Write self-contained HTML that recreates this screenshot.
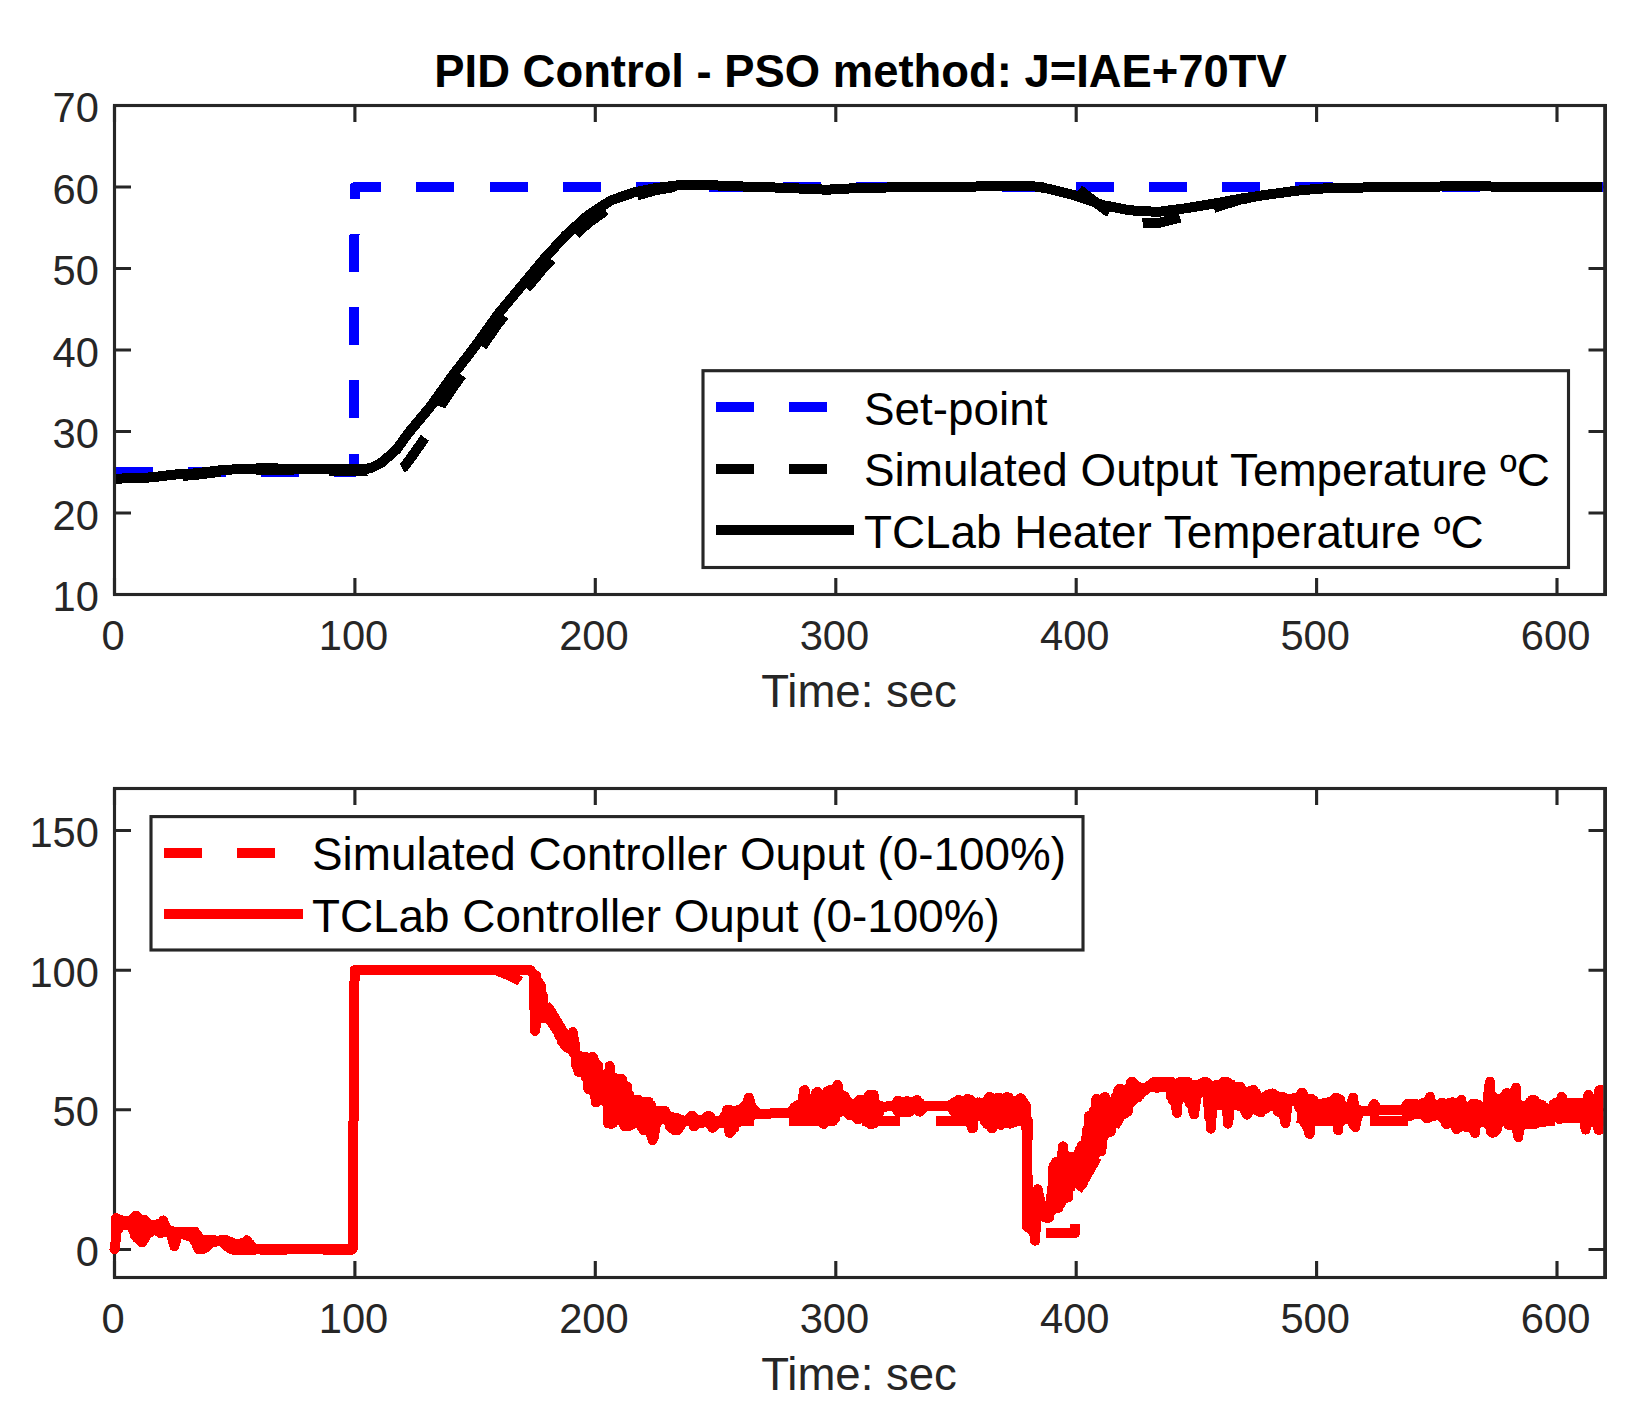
<!DOCTYPE html>
<html lang="en"><head><meta charset="utf-8"><title>PID Control - PSO method</title>
<style>html,body{margin:0;padding:0;background:#fff}svg{display:block}</style></head>
<body>
<svg width="1633" height="1419" viewBox="0 0 1633 1419" role="img" aria-label="PID control figure">
<defs>
<clipPath id="c1"><rect x="114.5" y="100" width="1489" height="494.5"/></clipPath>
<clipPath id="c2"><rect x="105" y="789" width="1498.5" height="488"/></clipPath>
</defs>
<rect width="1633" height="1419" fill="#fff"/>
<g id="axes1">
<path d="M114.5 594.5V578.0M114.5 105.5V122.0M354.9 594.5V578.0M354.9 105.5V122.0M595.3 594.5V578.0M595.3 105.5V122.0M835.8 594.5V578.0M835.8 105.5V122.0M1076.2 594.5V578.0M1076.2 105.5V122.0M1316.6 594.5V578.0M1316.6 105.5V122.0M1557.0 594.5V578.0M1557.0 105.5V122.0M114.5 594.5H131.0M1605.0 594.5H1588.5M114.5 513.0H131.0M1605.0 513.0H1588.5M114.5 431.5H131.0M1605.0 431.5H1588.5M114.5 350.0H131.0M1605.0 350.0H1588.5M114.5 268.5H131.0M1605.0 268.5H1588.5M114.5 187.0H131.0M1605.0 187.0H1588.5M114.5 105.5H131.0M1605.0 105.5H1588.5" stroke="#262626" stroke-width="3.125" fill="none"/>
<g clip-path="url(#c1)" fill="none" stroke-width="10" shape-rendering="crispEdges">
<polyline points="114.5,472.2 353.6,472.2 354.7,187.0 1605.0,187.0" stroke="#0000ff" stroke-linejoin="round" stroke-dasharray="38 35.25"/>
<polyline points="114.5,478.8 151.4,477.4 173.5,476.2 191.9,475.3 219.4,472.0 237.8,470.7 265.3,469.8 302.0,470.7 338.8,471.1 364.5,470.9 385.0,469.3 400.0,469.0 404.0,467.0 409.0,460.5 428.0,433.5 435.0,424.0 442.0,404.2 452.8,387.8 475.4,356.5 497.9,323.9 520.5,295.8 543.0,268.7 565.6,244.1 588.1,223.1 610.7,207.0 633.3,196.6 655.8,190.2 678.4,186.3 700.0,184.7" stroke="#000" stroke-dasharray="38 35.25" stroke-dashoffset="4.7"/>
<polyline points="1000.0,186.1 1035.0,186.5 1060.0,187.0 1076.0,187.6 1079.0,189.5 1092.0,199.5 1106.3,210.6 1125.0,219.5 1142.0,223.5 1160.0,222.6 1179.0,218.0 1197.0,212.5 1215.0,207.5 1240.5,199.5 1268.0,194.6 1295.6,190.8 1320.0,188.6" stroke="#000" stroke-dasharray="38 35.25" stroke-dashoffset="66.9"/>
<polyline points="114.5,478.8 151.4,477.4 173.5,474.6 191.9,473.7 219.4,470.4 237.8,469.1 265.3,468.2 302.0,469.1 338.8,469.5 364.5,469.3 372.0,467.6 380.6,463.3 388.0,457.0 396.4,449.7 407.7,433.9 430.2,406.9 452.8,375.3 475.4,346.0 497.9,314.4 520.5,287.3 543.0,260.2 565.6,235.4 588.1,215.1 610.7,200.5 633.3,192.6 655.8,188.0 678.4,185.3 700.0,184.7 733.0,186.2 775.0,187.5 827.0,189.7 863.7,187.7 949.0,187.0 998.0,186.1 1035.0,186.5 1047.6,188.6 1075.0,195.4 1102.7,205.1 1130.0,210.3 1157.8,211.9 1185.0,208.4 1213.0,203.8 1240.5,198.7 1268.0,194.6 1295.6,190.8 1320.0,188.6 1339.0,188.0 1378.0,187.2 1476.0,186.1 1515.6,187.2 1602.0,187.2" stroke="#000" stroke-linejoin="round"/>
</g>
<rect x="114.5" y="105.5" width="1490.5" height="489.0" fill="none" stroke="#262626" stroke-width="3.125"/>
<path d="M1605.2 104.0V596.0" stroke="#262626" stroke-width="3.6" fill="none"/>
</g>
<g id="axes2">
<path d="M114.5 1277.5V1261.0M114.5 788.5V805.0M354.9 1277.5V1261.0M354.9 788.5V805.0M595.3 1277.5V1261.0M595.3 788.5V805.0M835.8 1277.5V1261.0M835.8 788.5V805.0M1076.2 1277.5V1261.0M1076.2 788.5V805.0M1316.6 1277.5V1261.0M1316.6 788.5V805.0M1557.0 1277.5V1261.0M1557.0 788.5V805.0M114.5 1249.5H131.0M1605.0 1249.5H1588.5M114.5 1109.8H131.0M1605.0 1109.8H1588.5M114.5 970.2H131.0M1605.0 970.2H1588.5M114.5 830.5H131.0M1605.0 830.5H1588.5" stroke="#262626" stroke-width="3.125" fill="none"/>
<rect x="114.5" y="788.5" width="1490.5" height="489.0" fill="none" stroke="#262626" stroke-width="3.125"/>
<g clip-path="url(#c2)" fill="none" stroke="#ff0000" stroke-width="10" shape-rendering="crispEdges">
<polyline points="260.0,1249.5 352.6,1249.5 354.6,970.2 496.0,970.2 508.0,975.0 520.0,981.0 535.0,992.0 550.0,1010.0 565.0,1035.0 580.0,1058.0 600.0,1082.0 620.0,1098.0 645.0,1110.0 675.0,1118.0 700.0,1121.0 1028.0,1121.0 1028.0,1180.0" stroke-linejoin="round" stroke-dasharray="38 35.25" stroke-dashoffset="10.7"/>
<polyline points="1028.0,1180.0 1028.0,1232.8 1075.4,1232.8 1075.8,1192.0 1081.0,1185.5 1098.0,1155.8 1110.0,1135.0 1125.0,1108.0 1140.0,1094.0 1160.0,1087.0" stroke-linejoin="round" stroke-dasharray="38 35.25" stroke-dashoffset="2.7"/>
<polyline points="1160.0,1087.0 1185.0,1086.0 1215.0,1092.0 1250.0,1104.0 1285.0,1115.0 1310.0,1121.0 1605.0,1121.0" stroke-linejoin="round" stroke-dasharray="38 35.25" stroke-dashoffset="4.7"/>
<polyline points="114.5,1249.5 115.5,1242.7 116.1,1218.2 117.9,1219.0 118.3,1229.5 120.3,1220.0 120.7,1225.8 122.7,1221.1 123.1,1225.3 125.1,1225.3 127.3,1220.8 129.7,1220.5 130.1,1226.0 132.1,1219.8 132.5,1229.6 134.5,1217.4 134.9,1235.6 135.9,1215.6 136.9,1237.9 137.1,1217.1 139.3,1240.1 139.5,1219.2 141.7,1242.3 141.9,1219.6 142.3,1242.4 144.3,1219.6 144.7,1238.8 146.7,1222.4 147.1,1234.3 149.1,1224.8 149.5,1232.8 151.5,1231.6 153.7,1225.1 156.1,1224.5 156.5,1230.7 158.5,1223.9 158.9,1231.9 160.3,1232.9 160.9,1223.0 161.1,1232.8 163.3,1220.4 163.5,1220.9 163.9,1232.5 165.9,1226.4 168.1,1232.4 168.3,1229.4 170.5,1234.2 170.7,1230.6 172.9,1241.7 173.1,1231.8 174.3,1246.4 175.5,1242.6 177.7,1232.2 177.9,1235.8 180.1,1231.9 180.3,1234.1 182.5,1231.6 182.7,1231.6 184.9,1234.8 185.1,1231.6 187.3,1235.6 187.5,1231.6 189.7,1236.4 189.9,1231.6 192.1,1237.6 192.3,1231.6 194.5,1241.5 194.7,1231.6 196.9,1246.0 197.1,1234.6 198.7,1249.3 199.5,1238.5 199.9,1249.3 201.9,1240.0 202.3,1249.3 204.3,1240.1 204.7,1248.3 206.7,1240.1 207.1,1246.4 209.1,1240.1 209.5,1244.5 211.5,1240.1 211.9,1242.8 213.9,1240.1 214.3,1242.3 217.5,1241.0 219.9,1240.9 221.1,1240.1 223.3,1243.0 223.5,1240.1 225.7,1245.1 225.9,1240.1 228.1,1247.2 228.3,1241.1 230.5,1248.7 230.7,1242.1 232.9,1249.6 233.1,1243.1 234.7,1250.2 235.5,1244.1 235.9,1250.2 237.9,1250.2 240.1,1243.7 240.3,1250.2 242.5,1242.9 242.7,1250.2 244.9,1241.9 245.1,1250.2 246.7,1240.3 247.5,1241.1 247.9,1250.2 249.9,1243.9 250.3,1250.2 252.3,1246.7 252.7,1250.2 255.9,1249.4 258.3,1249.4 260.7,1249.4 263.1,1249.4 265.5,1249.4 267.9,1249.4 270.3,1249.4 272.7,1249.4 275.1,1249.4 277.5,1249.4 279.9,1249.4 282.3,1249.4 284.7,1249.4 287.1,1249.4 289.5,1249.4 291.9,1249.4 294.3,1249.4 296.7,1249.4 299.1,1249.4 301.5,1249.4 303.9,1249.4 306.3,1249.4 308.7,1249.4 311.1,1249.4 313.5,1249.4 315.9,1249.4 318.3,1249.4 320.7,1249.4 323.1,1249.4 325.5,1249.4 327.9,1249.4 330.3,1249.4 332.7,1249.4 335.1,1249.4 337.5,1249.4 339.9,1249.4 342.3,1249.4 344.7,1249.4 347.1,1249.4 349.5,1249.4 351.1,1249.4 352.6,1249.5 354.6,970.2 530.5,970.2 533.5,974.6 535.1,1030.8 535.9,975.4 536.3,1025.6 538.3,981.3 538.7,1018.9 540.7,985.7 541.1,1018.1 543.1,996.1 543.5,1018.1 545.5,1007.5 547.7,1018.5 547.9,1008.5 550.1,1020.9 550.3,1012.9 552.5,1024.2 552.7,1019.3 554.9,1027.6 555.1,1024.1 557.3,1031.1 557.5,1028.9 559.7,1036.5 559.9,1032.9 562.1,1041.9 562.3,1036.3 564.5,1045.3 564.7,1039.3 566.9,1047.7 569.3,1039.7 569.7,1048.9 571.7,1036.5 572.1,1049.8 572.7,1032.1 574.1,1054.0 574.3,1039.7 576.5,1066.5 576.7,1054.9 578.5,1071.9 579.1,1056.4 579.5,1071.8 581.5,1056.5 583.7,1072.2 583.9,1056.5 586.1,1077.9 586.3,1057.3 588.5,1089.2 590.9,1057.5 591.3,1090.1 592.7,1056.8 593.3,1092.1 593.5,1057.9 595.7,1102.3 595.9,1063.1 596.3,1102.2 598.3,1065.9 598.7,1100.7 600.7,1074.3 602.9,1099.9 605.3,1075.2 605.7,1102.2 607.7,1073.0 608.1,1123.5 609.7,1066.1 610.1,1123.7 610.3,1072.5 611.3,1123.8 612.7,1076.8 613.1,1123.0 615.1,1078.2 615.5,1120.4 619.7,1079.3 620.1,1119.2 621.7,1078.7 622.1,1120.9 622.3,1079.8 624.3,1126.1 624.7,1085.3 625.1,1126.1 627.1,1086.3 627.5,1125.9 629.5,1095.2 629.9,1125.7 631.9,1099.6 632.3,1124.5 634.3,1122.3 636.5,1099.9 637.9,1099.7 638.9,1122.9 639.1,1100.7 641.3,1127.3 641.5,1102.2 643.7,1130.3 646.1,1101.9 646.5,1130.6 647.9,1101.6 648.5,1131.1 648.7,1101.8 650.9,1134.4 651.1,1105.0 652.5,1140.1 653.5,1110.3 653.9,1136.9 655.9,1124.3 658.1,1111.2 658.3,1121.5 660.5,1111.0 660.7,1119.2 662.9,1110.9 664.9,1110.8 665.3,1118.5 665.5,1111.8 667.7,1121.0 667.9,1115.8 670.1,1126.9 670.3,1117.7 672.5,1128.8 672.7,1118.4 674.7,1130.5 675.1,1119.0 675.5,1130.4 677.5,1119.6 677.9,1129.8 679.9,1120.1 680.3,1126.1 682.3,1120.2 682.7,1122.8 685.9,1120.8 687.1,1121.3 689.3,1118.5 691.7,1115.7 692.1,1122.2 691.9,1115.8 693.9,1126.3 694.3,1117.9 694.7,1126.0 696.0,1119.1 696.4,1124.1 699.6,1121.8 700.8,1122.8 703.0,1119.8 703.2,1122.8 705.4,1117.9 707.8,1116.0 708.2,1123.0 708.2,1115.8 710.2,1124.7 710.4,1116.9 712.6,1127.9 712.8,1120.0 713.2,1127.6 715.2,1124.6 717.4,1121.0 717.6,1123.4 719.8,1120.6 720.0,1123.4 722.2,1119.9 724.6,1116.1 725.0,1123.5 727.0,1109.8 727.4,1125.0 729.0,1109.6 729.4,1132.8 729.6,1110.0 730.0,1133.0 732.0,1130.0 734.2,1111.1 734.4,1127.6 736.6,1110.4 736.8,1123.2 739.0,1109.7 739.2,1121.7 741.4,1108.8 741.6,1121.2 743.8,1106.5 744.0,1120.8 746.2,1104.0 746.4,1120.3 748.6,1097.7 748.8,1119.9 749.0,1097.6 751.2,1106.2 751.6,1115.6 753.6,1108.8 754.0,1114.3 756.0,1111.2 756.4,1114.2 759.6,1113.6 762.0,1113.7 764.4,1113.7 766.8,1113.7 769.2,1113.7 771.6,1113.3 774.0,1113.0 776.4,1112.9 778.8,1112.9 781.2,1112.9 783.6,1112.9 786.0,1112.9 788.4,1112.9 791.8,1111.4 792.2,1114.8 794.2,1107.5 794.6,1118.2 796.6,1105.4 797.0,1118.4 799.0,1104.5 799.4,1118.6 801.4,1102.6 801.8,1118.8 803.8,1090.5 804.2,1119.0 804.6,1090.1 806.2,1119.2 806.4,1097.0 808.6,1119.4 808.8,1099.7 811.0,1119.6 813.4,1099.1 813.8,1119.9 815.8,1093.1 816.2,1120.1 817.6,1092.0 818.2,1120.3 818.4,1092.9 820.6,1120.8 820.8,1095.4 823.0,1123.1 823.8,1124.0 825.4,1095.1 825.6,1121.9 827.8,1091.0 828.0,1120.9 830.2,1090.0 830.4,1120.9 832.6,1089.4 832.8,1120.9 835.0,1088.6 835.2,1117.9 837.4,1085.1 837.6,1085.0 838.0,1113.0 840.0,1093.9 840.4,1111.5 842.4,1095.8 844.6,1110.9 844.8,1096.4 847.0,1112.7 847.2,1100.7 849.4,1115.1 849.6,1104.0 851.8,1115.4 854.2,1103.9 854.6,1116.3 856.6,1102.6 857.0,1118.5 857.2,1119.1 859.0,1100.3 859.2,1119.1 859.6,1099.9 861.6,1100.1 863.8,1118.1 866.2,1099.6 866.6,1119.7 868.6,1096.2 869.0,1123.1 869.4,1094.8 870.2,1124.0 871.2,1094.8 871.6,1124.0 873.6,1094.8 874.0,1123.2 876.0,1103.5 876.4,1121.7 878.4,1105.5 878.8,1113.7 880.8,1105.9 881.2,1108.0 884.0,1106.8 887.2,1106.4 889.6,1106.4 892.0,1106.4 895.4,1104.3 895.8,1108.4 897.6,1100.7 897.8,1111.3 898.0,1100.9 900.2,1111.8 900.4,1102.1 902.0,1112.2 902.8,1112.2 905.0,1101.8 905.2,1112.2 907.2,1101.0 907.6,1101.1 908.0,1112.2 910.0,1102.1 910.4,1111.1 912.4,1109.6 914.6,1101.6 917.0,1100.2 917.4,1110.3 917.2,1100.3 919.4,1111.6 919.6,1102.8 920.0,1111.7 922.0,1105.1 922.4,1109.0 925.6,1106.4 928.0,1106.0 930.4,1106.0 932.8,1106.0 935.2,1106.0 937.6,1106.0 940.0,1106.0 942.4,1106.0 944.8,1106.0 947.2,1106.0 950.6,1104.7 951.0,1107.4 953.0,1103.2 953.4,1110.9 955.4,1101.7 955.8,1113.4 957.8,1100.2 958.2,1114.2 958.4,1099.9 960.2,1115.0 960.4,1100.5 962.6,1116.1 965.0,1100.5 965.4,1118.3 967.4,1099.1 967.8,1120.6 967.8,1098.9 969.8,1122.9 970.0,1099.7 972.2,1128.5 972.4,1101.8 972.8,1128.0 974.8,1102.5 975.2,1116.6 977.2,1102.5 977.6,1114.9 979.6,1102.5 981.8,1116.2 984.2,1102.5 984.6,1120.9 986.6,1101.3 987.0,1124.1 989.0,1097.2 989.4,1125.1 989.4,1097.0 991.4,1127.5 991.6,1098.1 992.0,1128.5 994.0,1125.3 996.2,1098.3 998.2,1097.6 998.6,1124.4 998.8,1097.8 1000.8,1125.0 1001.2,1124.8 1003.4,1098.6 1003.6,1123.2 1005.8,1097.5 1007.0,1097.0 1008.2,1123.1 1008.4,1097.4 1010.0,1123.7 1010.8,1099.7 1011.2,1123.4 1013.2,1101.4 1013.6,1122.4 1015.6,1121.8 1017.8,1100.5 1018.0,1121.5 1020.2,1098.5 1020.4,1121.2 1020.6,1098.1 1026.2,1106.3 1026.9,1160.0 1027.0,1226.5 1031.0,1229.5 1034.6,1234.0 1035.1,1240.7 1037.6,1189.3 1044.0,1217.0 1046.5,1217.7 1048.7,1209.5 1048.9,1217.6 1051.1,1195.6 1051.3,1211.5 1053.5,1165.9 1053.7,1208.8 1055.9,1162.0 1056.1,1208.2 1058.3,1161.7 1058.5,1207.8 1060.7,1160.4 1060.9,1203.4 1061.9,1158.2 1063.0,1146.3 1063.4,1198.9 1065.4,1154.5 1065.8,1197.9 1067.8,1156.5 1068.2,1197.3 1070.2,1156.9 1070.6,1187.2 1072.6,1157.3 1073.0,1178.8 1077.2,1156.0 1077.6,1178.2 1079.6,1149.4 1080.0,1179.2 1082.0,1145.6 1082.4,1183.5 1082.8,1183.7 1084.4,1144.6 1084.6,1179.5 1086.8,1130.2 1087.0,1173.9 1089.2,1115.7 1089.4,1168.3 1091.6,1114.6 1091.8,1162.6 1094.0,1110.7 1094.2,1157.0 1096.4,1099.1 1096.6,1152.6 1096.8,1099.1 1099.0,1100.1 1099.4,1151.5 1101.4,1151.4 1103.6,1098.7 1103.8,1137.0 1104.8,1096.9 1106.2,1100.2 1106.6,1133.0 1108.6,1102.1 1109.0,1132.4 1111.0,1131.2 1113.2,1101.0 1113.4,1119.0 1115.6,1096.6 1115.8,1115.3 1118.0,1091.6 1119.4,1088.7 1120.4,1115.2 1120.6,1089.1 1121.2,1115.3 1123.0,1089.9 1123.4,1114.5 1125.4,1113.3 1127.6,1089.8 1127.8,1111.5 1130.0,1086.3 1130.2,1103.7 1131.2,1082.0 1132.6,1082.0 1133.0,1099.1 1135.0,1084.5 1135.4,1098.3 1137.4,1086.7 1137.8,1097.5 1139.8,1087.3 1140.2,1095.0 1142.2,1087.9 1142.6,1092.2 1144.6,1090.5 1146.8,1087.7 1147.0,1088.9 1149.2,1085.7 1149.4,1087.2 1151.6,1083.5 1154.0,1082.0 1154.4,1087.1 1156.4,1081.9 1156.8,1087.9 1156.8,1088.0 1158.8,1081.9 1159.0,1087.0 1161.2,1081.8 1161.4,1085.9 1163.6,1081.8 1166.0,1081.7 1166.4,1086.4 1168.4,1081.7 1168.8,1087.6 1170.6,1081.6 1170.8,1096.5 1171.0,1082.0 1173.2,1101.1 1173.4,1083.8 1175.6,1104.2 1177.0,1112.9 1178.0,1083.1 1178.2,1101.8 1180.4,1081.8 1180.6,1095.4 1181.0,1081.6 1183.0,1081.6 1185.2,1095.3 1185.4,1081.6 1187.6,1099.2 1187.8,1082.0 1190.0,1103.7 1190.2,1084.6 1192.4,1106.6 1194.0,1114.5 1194.8,1084.9 1195.0,1109.1 1197.2,1084.6 1197.4,1094.1 1199.6,1084.2 1199.8,1092.9 1202.0,1083.4 1204.4,1081.9 1204.8,1092.5 1204.8,1081.7 1206.8,1094.4 1207.0,1082.7 1209.2,1117.5 1209.4,1085.2 1210.8,1128.7 1211.8,1113.2 1214.0,1085.5 1214.2,1105.6 1216.4,1085.1 1216.6,1104.9 1218.8,1084.7 1219.0,1104.9 1221.2,1084.1 1223.6,1082.0 1224.0,1105.2 1224.0,1081.6 1226.0,1107.5 1226.2,1081.6 1227.8,1123.7 1228.6,1082.6 1229.0,1117.9 1231.0,1084.3 1231.4,1106.3 1233.4,1086.4 1235.6,1105.2 1238.0,1086.9 1238.4,1105.7 1240.4,1086.8 1240.8,1106.2 1240.6,1086.8 1242.8,1107.1 1243.0,1090.6 1245.2,1111.2 1247.0,1114.6 1247.6,1091.6 1247.8,1113.6 1250.0,1090.9 1250.2,1110.0 1252.4,1090.2 1253.6,1089.8 1254.8,1109.6 1256.0,1093.0 1258.2,1110.8 1258.4,1098.2 1260.6,1112.3 1260.8,1112.3 1263.0,1098.5 1263.2,1109.7 1265.4,1096.5 1265.6,1108.7 1267.8,1094.7 1268.0,1106.9 1270.2,1094.0 1270.4,1104.8 1272.2,1093.5 1272.8,1093.6 1275.0,1105.6 1275.2,1095.4 1277.4,1110.6 1277.6,1097.1 1279.2,1112.3 1282.2,1096.8 1282.6,1112.9 1282.4,1096.8 1284.6,1119.3 1284.8,1098.0 1285.4,1123.3 1287.2,1105.7 1289.4,1098.9 1289.6,1101.3 1291.8,1098.6 1294.2,1098.3 1294.6,1100.7 1296.6,1097.9 1297.0,1101.6 1299.0,1097.0 1299.4,1108.4 1301.4,1093.3 1301.8,1118.0 1302.0,1092.6 1303.8,1122.0 1304.0,1096.1 1306.2,1125.7 1306.4,1098.7 1308.6,1132.4 1309.6,1134.0 1311.0,1098.7 1311.2,1098.7 1311.6,1121.3 1313.6,1100.3 1314.0,1119.3 1316.0,1103.1 1316.4,1119.1 1318.4,1119.1 1320.6,1103.7 1320.8,1119.1 1323.0,1103.3 1323.2,1119.1 1325.4,1102.9 1325.6,1119.1 1327.8,1102.4 1328.0,1119.1 1330.2,1101.8 1330.4,1119.1 1332.6,1101.2 1335.0,1098.8 1335.4,1119.5 1336.0,1097.6 1337.4,1122.2 1337.6,1098.4 1338.2,1130.2 1340.0,1099.5 1340.4,1122.3 1342.4,1104.7 1342.8,1119.0 1344.8,1107.6 1347.0,1119.0 1349.4,1107.2 1349.8,1120.0 1351.8,1101.3 1352.2,1122.9 1353.0,1097.7 1354.2,1126.0 1354.4,1103.5 1355.4,1127.2 1356.8,1109.5 1357.2,1118.6 1359.2,1110.1 1359.6,1112.4 1362.8,1110.9 1365.2,1110.8 1367.6,1110.7 1368.8,1111.2 1371.0,1109.1 1371.2,1111.1 1373.4,1104.7 1373.6,1111.1 1374.2,1104.0 1376.0,1107.3 1376.4,1111.1 1379.6,1110.1 1382.0,1110.3 1384.4,1110.3 1386.8,1110.3 1389.2,1110.3 1391.6,1110.3 1394.0,1110.3 1396.4,1110.3 1398.8,1110.3 1401.2,1110.3 1404.6,1108.5 1405.0,1111.4 1407.0,1104.3 1407.4,1113.3 1408.2,1103.6 1409.4,1116.0 1409.6,1103.8 1410.0,1116.1 1412.0,1115.0 1414.0,1103.6 1414.4,1103.6 1416.6,1113.7 1416.8,1104.3 1419.0,1114.0 1421.4,1103.8 1421.8,1114.3 1423.8,1102.8 1424.2,1115.9 1426.2,1102.0 1426.6,1118.1 1427.6,1118.3 1428.6,1100.3 1428.8,1117.6 1430.0,1096.8 1431.2,1102.4 1431.6,1116.2 1433.6,1105.9 1434.0,1115.8 1436.0,1115.5 1438.2,1105.5 1439.8,1104.0 1440.2,1116.1 1441.8,1102.6 1443.2,1119.1 1443.4,1103.3 1445.6,1122.7 1446.6,1124.3 1448.0,1103.5 1448.2,1123.5 1450.4,1102.6 1452.2,1102.3 1452.8,1123.2 1453.0,1102.7 1455.2,1126.5 1456.8,1129.3 1457.6,1103.7 1457.8,1128.2 1460.0,1102.0 1460.2,1126.2 1461.2,1099.8 1462.6,1106.9 1464.8,1126.6 1465.0,1109.6 1467.2,1127.2 1469.6,1109.0 1470.0,1127.6 1472.0,1104.7 1472.4,1128.2 1473.2,1103.5 1474.4,1131.6 1474.6,1103.8 1475.0,1133.0 1477.0,1104.3 1477.4,1123.9 1479.4,1105.8 1479.8,1121.9 1484.0,1106.8 1484.4,1122.5 1486.4,1104.8 1486.8,1123.5 1488.8,1086.5 1489.2,1125.5 1490.0,1081.7 1491.2,1131.9 1491.4,1094.8 1492.4,1132.8 1493.8,1097.6 1494.2,1132.1 1496.2,1099.0 1496.6,1130.1 1498.6,1121.3 1500.8,1099.3 1501.0,1118.6 1503.2,1098.5 1505.6,1094.7 1506.0,1119.2 1506.8,1092.9 1508.0,1124.3 1508.2,1093.5 1509.2,1125.0 1510.6,1124.8 1512.8,1093.7 1515.2,1090.4 1515.6,1126.0 1516.0,1087.7 1517.6,1135.3 1517.8,1102.8 1518.4,1136.9 1520.2,1105.5 1520.6,1127.1 1522.6,1106.1 1523.0,1124.4 1527.2,1105.7 1527.6,1124.1 1529.6,1102.3 1530.0,1124.3 1531.6,1100.3 1532.0,1124.4 1532.2,1100.3 1533.8,1124.5 1534.6,1100.3 1535.0,1123.9 1537.0,1103.2 1537.4,1122.4 1539.4,1104.5 1539.8,1122.1 1541.8,1104.9 1542.2,1121.9 1544.2,1107.2 1544.6,1121.7 1546.6,1109.2 1547.0,1121.5 1549.0,1121.3 1551.2,1108.3 1551.4,1117.3 1553.6,1104.1 1556.0,1102.8 1556.4,1116.4 1558.4,1101.8 1558.8,1118.1 1559.6,1119.1 1560.8,1099.5 1561.0,1118.7 1561.6,1096.8 1563.4,1100.6 1563.8,1118.1 1565.8,1102.6 1568.0,1118.0 1568.2,1103.0 1570.4,1118.1 1572.8,1103.1 1573.2,1118.2 1574.6,1102.9 1575.2,1118.3 1575.4,1103.0 1577.6,1118.4 1580.0,1103.1 1580.4,1118.5 1581.0,1102.9 1582.4,1119.2 1584.8,1103.0 1585.2,1125.6 1585.6,1129.6 1587.2,1100.3 1587.4,1123.6 1588.4,1094.8 1589.8,1099.8 1590.2,1121.8 1592.2,1102.5 1594.4,1122.4 1596.8,1101.9 1597.2,1124.7 1598.6,1130.0 1599.2,1091.5 1599.4,1090.2 1599.8,1129.7 1601.8,1090.4 1602.2,1128.0 1604.2,1090.5 1604.6,1127.7" stroke-linejoin="round" stroke-linecap="round"/>
</g>
<path d="M1605.2 787.0V1279.0" stroke="#262626" stroke-width="3.6" fill="none"/>
</g>
<g font-family="'Liberation Sans', sans-serif" fill="#262626">
<g font-size="41.67" text-anchor="end">
<text x="98.9" y="611.1">10</text>
<text x="98.9" y="529.6">20</text>
<text x="98.9" y="448.1">30</text>
<text x="98.9" y="366.6">40</text>
<text x="98.9" y="285.1">50</text>
<text x="98.9" y="203.6">60</text>
<text x="98.9" y="122.1">70</text>
<text x="98.9" y="1266.1">0</text>
<text x="98.9" y="1126.4">50</text>
<text x="98.9" y="986.8">100</text>
<text x="98.9" y="847.1">150</text>
</g>
<g font-size="41.67" text-anchor="middle">
<text x="113.1" y="650.2">0</text>
<text x="353.5" y="650.2">100</text>
<text x="593.9" y="650.2">200</text>
<text x="834.4" y="650.2">300</text>
<text x="1074.8" y="650.2">400</text>
<text x="1315.2" y="650.2">500</text>
<text x="1555.6" y="650.2">600</text>
<text x="113.1" y="1333.4">0</text>
<text x="353.5" y="1333.4">100</text>
<text x="593.9" y="1333.4">200</text>
<text x="834.4" y="1333.4">300</text>
<text x="1074.8" y="1333.4">400</text>
<text x="1315.2" y="1333.4">500</text>
<text x="1555.6" y="1333.4">600</text>
</g>
<g font-size="45.83" text-anchor="middle">
<text x="859" y="706.8" font-size="45.55">Time: sec</text>
<text x="859" y="1390.3" font-size="45.55">Time: sec</text>
<text x="860.6" y="87.3" font-size="45.4" font-weight="bold" fill="#000">PID Control - PSO method: J=IAE+70TV</text>
</g>
</g>
<g id="legend1">
<rect x="703" y="370.7" width="865.5" height="196.8" fill="#fff" stroke="#262626" stroke-width="3.125"/>
<g stroke-width="10" fill="none" shape-rendering="crispEdges">
<path d="M716 407H854" stroke="#0000ff" stroke-dasharray="38 35.25"/>
<path d="M716 469H854" stroke="#000" stroke-dasharray="38 35.25"/>
<path d="M716 530H854" stroke="#000"/>
</g>
<g font-family="'Liberation Sans', sans-serif" font-size="45.83" fill="#000">
<text x="864" y="425.1">Set-point</text>
<text x="864" y="486.3">Simulated Output Temperature ºC</text>
<text x="864" y="547.6">TCLab Heater Temperature ºC</text>
</g></g>
<g id="legend2">
<rect x="151" y="816.6" width="932" height="133.4" fill="#fff" stroke="#262626" stroke-width="3.125"/>
<g stroke-width="10" stroke="#ff0000" fill="none" shape-rendering="crispEdges">
<path d="M164 853H303.4" stroke-dasharray="38 35.25"/>
<path d="M164 914H303.4"/>
</g>
<g font-family="'Liberation Sans', sans-serif" font-size="45.83" fill="#000">
<text x="312" y="870.3">Simulated Controller Ouput (0-100%)</text>
<text x="312" y="931.5">TCLab Controller Ouput (0-100%)</text>
</g></g>
</svg>
</body></html>
